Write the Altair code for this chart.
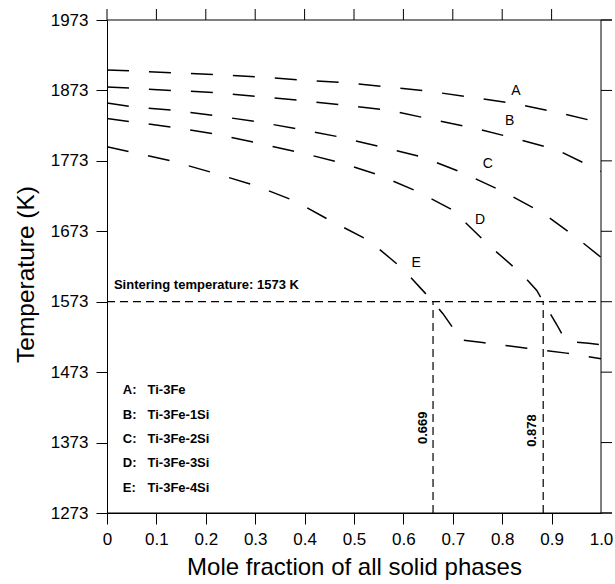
import altair as alt
import pandas as pd

FONT = "Liberation Sans"

# Curves (x = mole fraction of solid phases, y = temperature K)
a_x = [0, 0.05, 0.13, 0.22, 0.31, 0.39, 0.48, 0.57, 0.65, 0.74, 0.82, 0.91, 1.0]
a_y = [1902, 1901, 1898, 1895.5, 1892, 1888, 1884, 1878, 1872, 1863, 1855, 1842, 1827]
b_x = [0, 0.13, 0.22, 0.31, 0.39, 0.48, 0.57, 0.65, 0.74, 0.82, 0.91, 1.0]
b_y = [1878, 1873, 1870, 1864, 1859, 1852, 1845, 1833, 1820, 1806, 1789, 1758]
c_x = [0, 0.05, 0.13, 0.22, 0.30, 0.39, 0.47, 0.56, 0.64, 0.72, 0.80, 0.88, 0.945, 1.0]
c_y = [1855, 1850, 1845, 1837, 1829, 1818, 1807, 1792, 1778, 1756, 1730, 1700, 1667, 1636]
d_x = [0, 0.13, 0.22, 0.30, 0.39, 0.47, 0.55, 0.63, 0.70, 0.77, 0.84, 0.87, 0.883, 0.91, 0.929, 0.975, 1.0]
d_y = [1833, 1821, 1811, 1799, 1785, 1771, 1753, 1729, 1703, 1655, 1612, 1589, 1573, 1541, 1517, 1514, 1512]
e_x = [0, 0.13, 0.21, 0.30, 0.38, 0.45, 0.53, 0.60, 0.66, 0.68, 0.708, 0.712, 0.76, 0.85, 0.93, 1.0]
e_y = [1793, 1773, 1757, 1738, 1716, 1689, 1660, 1619, 1573, 1556, 1528, 1519, 1515, 1507, 1500, 1492]

series = ["A", "B", "C", "D", "E"]
label_x = [0.828, 0.815, 0.771, 0.755, 0.626]
label_y = [1872, 1829, 1768, 1689, 1628]

legend_keys = ["A:", "B:", "C:", "D:", "E:"]
legend_names = ["Ti-3Fe", "Ti-3Fe-1Si", "Ti-3Fe-2Si", "Ti-3Fe-3Si", "Ti-3Fe-4Si"]
legend_y = [1447, 1412, 1378, 1344, 1309]
legend_key_x = 0.032
legend_name_x = 0.082

sinter_T = 1573
frac_lines_x = [0.66, 0.883]
frac_labels = ["0.669", "0.878"]
frac_label_x = [0.639, 0.860]
frac_label_y = [1394, 1390]

x_ticks = [0, 0.1, 0.2, 0.3, 0.4, 0.5, 0.6, 0.7, 0.8, 0.9, 1.0]
x_tick_marks = [0, 0.1, 0.2, 0.3, 0.4, 0.5, 0.6, 0.7, 0.8, 0.9]
y_ticks = [1273, 1373, 1473, 1573, 1673, 1773, 1873, 1973]

W, H, TICK = 494, 493, 11
X0, X1, Y0, Y1 = 0.0, 1.0, 1273, 1973
# tick length expressed in data units of each scale
TX = TICK * (X1 - X0) / W
TY = TICK * (Y1 - Y0) / H

rows = []
for name, xs, ys in zip(series, [a_x, b_x, c_x, d_x, e_x], [a_y, b_y, c_y, d_y, e_y]):
    for i, (x, y) in enumerate(zip(xs, ys)):
        rows.append({"s": name, "x": x, "y": y, "o": i})
curves = pd.DataFrame(rows)

xscale = alt.Scale(domain=[X0, X1], nice=False, zero=False)
yscale = alt.Scale(domain=[Y0, Y1], nice=False, zero=False)

# bottom axis: ticks at 0..0.9 only (the 1.0 tick is hidden, as in the reference)
x_axis = alt.Axis(
    values=x_ticks, labelExpr="datum.value == 0 ? '0' : format(datum.value, '.1f')",
    title="Mole fraction of all solid phases", titleFontSize=24, titleFont=FONT,
    titleFontWeight="normal", titlePadding=8, labelFont=FONT, labelFontSize=17,
    labelPadding=7, tickSize=TICK,
    tickColor={"condition": {"test": "datum.value >= 0.95", "value": "transparent"}, "value": "black"},
    domainColor="black", labelColor="black", titleColor="black", grid=False, labelFlush=False,
)
y_axis = alt.Axis(
    values=y_ticks, format="d", title="Temperature (K)", titleFontSize=24.5,
    titleFont=FONT, titleFontWeight="normal", titlePadding=12, titleY=254,
    labelFont=FONT, labelFontSize=17, labelPadding=8, tickSize=TICK, tickColor="black",
    domainColor="black", labelColor="black", titleColor="black", grid=False,
    labelFlush=False,
)

# every layer uses the same scale and axis definitions so the shared axes merge
X = lambda f="x:Q": alt.X(f, scale=xscale, axis=x_axis)
Y = lambda f="y:Q": alt.Y(f, scale=yscale, axis=y_axis)

lines = alt.Chart(curves).mark_line(
    color="black", strokeWidth=1.5, strokeDash=[22, 20], clip=False
).encode(x=X(), y=Y(), detail="s:N", order="o:Q")

# top/bottom frame lines extend to the right like the reference
frame_h = alt.Chart(pd.DataFrame({"y": [Y1, Y0], "x": [X0, X0], "x2": [X1 + TX] * 2})).mark_rule(
    color="black", strokeWidth=1, clip=False
).encode(x=X(), x2="x2:Q", y=Y())
frame_right = alt.Chart(pd.DataFrame({"x": [X1], "y": [Y0], "y2": [Y1]})).mark_rule(
    color="black", strokeWidth=1, clip=False
).encode(x=X(), y=Y(), y2="y2:Q")

top_ticks = alt.Chart(pd.DataFrame({"x": x_tick_marks, "y": [Y1] * 10, "y2": [Y1 + TY] * 10})).mark_rule(
    color="black", strokeWidth=1, clip=False
).encode(x=X(), y=Y(), y2="y2:Q")
right_ticks = alt.Chart(pd.DataFrame({"y": y_ticks, "x": [X1] * 8, "x2": [X1 + TX] * 8})).mark_rule(
    color="black", strokeWidth=1, clip=False
).encode(x=X(), x2="x2:Q", y=Y())

hline = alt.Chart(pd.DataFrame({"y": [sinter_T], "x": [X0], "x2": [X1]})).mark_rule(
    color="black", strokeWidth=1.2, strokeDash=[8, 5]
).encode(x=X(), x2="x2:Q", y=Y())

vlines = alt.Chart(pd.DataFrame({"x": frac_lines_x, "y": [Y0] * 2, "y2": [sinter_T] * 2})).mark_rule(
    color="black", strokeWidth=1.2, strokeDash=[8, 5]
).encode(x=X(), y=Y(), y2="y2:Q")

curve_labels = alt.Chart(pd.DataFrame({"t": series, "x": label_x, "y": label_y})).mark_text(
    font=FONT, fontSize=14, color="black", align="center", baseline="middle"
).encode(x=X(), y=Y(), text="t:N")

sinter_text = alt.Chart(pd.DataFrame({"t": ["Sintering temperature: 1573 K"], "x": [0.014], "y": [1591]})).mark_text(
    font=FONT, fontSize=13, fontWeight="bold", color="black", align="left", baseline="alphabetic"
).encode(x=X(), y=Y(), text="t:N")

leg_keys = alt.Chart(pd.DataFrame({"t": legend_keys, "x": [legend_key_x] * 5, "y": legend_y})).mark_text(
    font=FONT, fontSize=13, fontWeight="bold", color="black", align="left", baseline="middle"
).encode(x=X(), y=Y(), text="t:N")

leg_names = alt.Chart(pd.DataFrame({"t": legend_names, "x": [legend_name_x] * 5, "y": legend_y})).mark_text(
    font=FONT, fontSize=13, fontWeight="bold", color="black", align="left", baseline="middle"
).encode(x=X(), y=Y(), text="t:N")

frac_text = alt.Chart(pd.DataFrame({"t": frac_labels, "x": frac_label_x, "y": frac_label_y})).mark_text(
    font=FONT, fontSize=13, fontWeight="bold", color="black", align="center", baseline="middle", angle=270
).encode(x=X(), y=Y(), text="t:N")

chart = alt.layer(
    lines, frame_h, frame_right, top_ticks, right_ticks,
    hline, vlines, curve_labels, sinter_text, leg_keys, leg_names, frac_text
).properties(
    width=W, height=H,
    autosize=alt.AutoSizeParams(type="none"),
    padding={"left": 107, "top": 20, "right": 14, "bottom": 71},
    background="white",
).configure_view(stroke=None)

chart.save("out.html", embed_options={"renderer": "svg", "actions": False})
